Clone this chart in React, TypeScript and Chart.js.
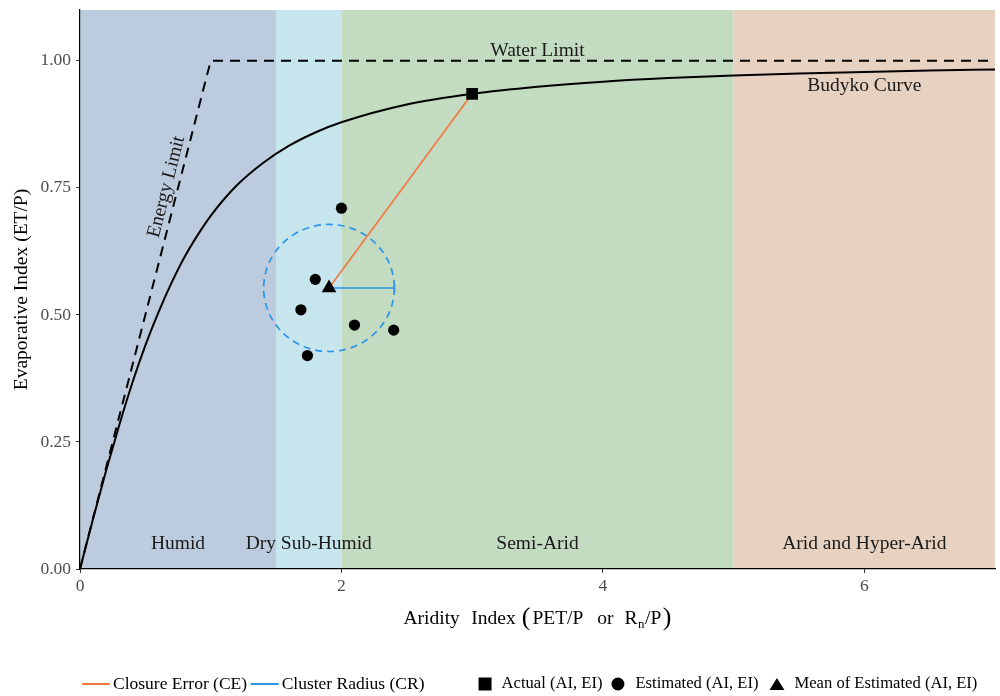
import React, { useEffect, useRef } from "react";
import { Chart, registerables } from "chart.js";

Chart.register(...registerables);

// ---- data ----
const budykoAI = [0, 0.1, 0.2, 0.3, 0.4, 0.5, 0.6, 0.7, 0.8, 0.9, 1.0, 1.2, 1.4, 1.6, 1.8, 2.0, 2.5, 3.0, 3.5, 4.0, 4.5, 5.0, 5.5, 6.0, 6.5, 7.0];
const budykoEI = [0, 0.099, 0.194, 0.283, 0.366, 0.44, 0.505, 0.563, 0.614, 0.657, 0.695, 0.755, 0.799, 0.833, 0.859, 0.879, 0.914, 0.935, 0.949, 0.959, 0.966, 0.971, 0.975, 0.978, 0.981, 0.983];
const limitAI = [0, 1, 7];
const limitEI = [0, 1, 1];
const estimatedAI = [2.0, 1.8, 1.69, 1.74, 2.1, 2.4];
const estimatedEI = [0.71, 0.57, 0.51, 0.42, 0.48, 0.47];
const actualAI = [3.0];
const actualEI = [0.935];
const meanAI = [1.905];
const meanEI = [0.553];
const clusterRadiusAI = [0.5];
const clusterRadiusEI = [0.125];
const regionNames = ["Humid", "Dry Sub-Humid", "Semi-Arid", "Arid and Hyper-Arid"];
const regionStart = [0, 1.5, 2, 5];
const regionEnd = [1.5, 2, 5, 7];
const regionColors = ["#BCCCDE", "#C6E5EC", "#C3DBC0", "#E7D1C1"];
const xTickValues = [0, 2, 4, 6];
const yTickValues = [0, 0.25, 0.5, 0.75, 1.0];

const FONT = '"Liberation Serif", "Times New Roman", serif';
const ORANGE = "#F27B45";
const BLUE = "#2C95E8";

const pts = (xs: number[], ys: number[]) => xs.map((x, i) => ({ x, y: ys[i] }));

const backgroundPlugin = {
  id: "regions",
  beforeDraw(chart: any) {
    const { ctx, chartArea: a, scales } = chart;
    const x = scales.x, y = scales.y;
    ctx.save();
    regionStart.forEach((s, i) => {
      const x0 = x.getPixelForValue(s);
      const x1 = x.getPixelForValue(regionEnd[i]);
      ctx.fillStyle = regionColors[i];
      ctx.fillRect(x0, a.top, x1 - x0, a.bottom - a.top);
    });
    ctx.fillStyle = "#1a1a1a";
    ctx.font = `19.5px ${FONT}`;
    ctx.textAlign = "center";
    ctx.textBaseline = "middle";
    regionNames.forEach((n, i) => {
      const cx = x.getPixelForValue((regionStart[i] + regionEnd[i]) / 2);
      ctx.fillText(n, cx, y.getPixelForValue(0.05));
    });
    ctx.restore();
  },
  beforeDatasetsDraw(chart: any) {
    const { ctx, scales } = chart;
    const x = scales.x, y = scales.y;
    const cx = x.getPixelForValue(meanAI[0]);
    const cy = y.getPixelForValue(meanEI[0]);
    const rx = x.getPixelForValue(meanAI[0] + clusterRadiusAI[0]) - cx;
    const ry = cy - y.getPixelForValue(meanEI[0] + clusterRadiusEI[0]);
    ctx.save();
    ctx.beginPath();
    ctx.ellipse(cx, cy, rx, ry, 0, 0, Math.PI * 2);
    ctx.setLineDash([7, 5]);
    ctx.strokeStyle = BLUE;
    ctx.lineWidth = 1.7;
    ctx.stroke();
    ctx.restore();
  },
  afterDatasetsDraw(chart: any) {
    const { ctx, scales } = chart;
    const x = scales.x, y = scales.y;
    ctx.save();
    ctx.fillStyle = "#1a1a1a";
    ctx.font = `19.5px ${FONT}`;
    ctx.textAlign = "center";
    ctx.textBaseline = "middle";
    ctx.fillText("Water Limit", x.getPixelForValue(3.5), y.getPixelForValue(1.02));
    ctx.fillText("Budyko Curve", x.getPixelForValue(6.0), y.getPixelForValue(0.951));
    // Energy limit rotated along the dashed line
    const p0x = x.getPixelForValue(limitAI[0]), p0y = y.getPixelForValue(limitEI[0]);
    const p1x = x.getPixelForValue(limitAI[1]), p1y = y.getPixelForValue(limitEI[1]);
    const ang = Math.atan2(p1y - p0y, p1x - p0x);
    ctx.translate(x.getPixelForValue(0.662), y.getPixelForValue(0.752));
    ctx.rotate(ang);
    ctx.fillText("Energy Limit", 0, 0);
    ctx.restore();
  },
  afterDraw(chart: any) {
    const { ctx, chartArea: a } = chart;
    ctx.save();
    // y title
    ctx.fillStyle = "#000";
    ctx.font = `19.5px ${FONT}`;
    ctx.textAlign = "center";
    ctx.textBaseline = "middle";
    ctx.translate(22, (a.top + a.bottom) / 2);
    ctx.rotate(-Math.PI / 2);
    ctx.fillText("Evaporative Index (ET/P)", 0, 0);
    ctx.restore();

    // x title with subscript and tall parens
    ctx.save();
    ctx.fillStyle = "#000";
    ctx.textBaseline = "alphabetic";
    ctx.textAlign = "left";
    const segs = [
      { t: "Aridity", s: 19.5, dy: 0, g: 11.5 },
      { t: "Index", s: 19.5, dy: 0, g: 6 },
      { t: "(", s: 26, dy: 1, g: 2 },
      { t: "PET/P", s: 19.5, dy: 0, g: 14 },
      { t: "or", s: 19.5, dy: 0, g: 11 },
      { t: "R", s: 19.5, dy: 0, g: 0.5 },
      { t: "n", s: 13, dy: 4, g: 0.5 },
      { t: "/P", s: 19.5, dy: 0, g: 1.5 },
      { t: ")", s: 26, dy: 1, g: 0 },
    ];
    let total = 0;
    const widths = segs.map((sg) => {
      ctx.font = `${sg.s}px ${FONT}`;
      const w = ctx.measureText(sg.t).width;
      total += w + sg.g;
      return w;
    });
    let cx = (a.left + a.right) / 2 - total / 2;
    const base = 623.5;
    segs.forEach((sg, i) => {
      ctx.font = `${sg.s}px ${FONT}`;
      ctx.fillText(sg.t, cx, base + sg.dy);
      cx += widths[i] + sg.g;
    });
    ctx.restore();

    // legend
    ctx.save();
    const ly = 684;
    ctx.textAlign = "left";
    ctx.textBaseline = "middle";
    ctx.fillStyle = "#000";
    let lx = 82;
    const drawLine = (color: string) => {
      ctx.beginPath();
      ctx.strokeStyle = color;
      ctx.lineWidth = 2;
      ctx.moveTo(lx, ly);
      ctx.lineTo(lx + 28, ly);
      ctx.stroke();
      lx += 28 + 3;
    };
    const drawText = (t: string, gap: number, size: number) => {
      ctx.font = `${size}px ${FONT}`;
      ctx.fillStyle = "#000";
      ctx.fillText(t, lx, ly);
      lx += ctx.measureText(t).width + gap;
    };
    drawLine(ORANGE);
    drawText("Closure Error (CE)", 3.5, 17.5);
    drawLine(BLUE);
    drawText("Cluster Radius (CR)", 54, 17.5);
    ctx.fillStyle = "#000";
    ctx.fillRect(lx, ly - 6.5, 13, 13);
    lx += 13 + 10;
    drawText("Actual (AI, EI)", 9, 16.6);
    ctx.beginPath();
    ctx.fillStyle = "#000";
    ctx.arc(lx + 6.5, ly, 6.5, 0, Math.PI * 2);
    ctx.fill();
    lx += 13 + 11;
    drawText("Estimated (AI, EI)", 11, 16.6);
    ctx.beginPath();
    ctx.fillStyle = "#000";
    ctx.moveTo(lx, ly + 6);
    ctx.lineTo(lx + 15, ly + 6);
    ctx.lineTo(lx + 7.5, ly - 6);
    ctx.closePath();
    ctx.fill();
    lx += 15 + 10;
    drawText("Mean of Estimated (AI, EI)", 0, 16.6);
    ctx.restore();
  },
};

export default function App() {
  const ref = useRef<HTMLCanvasElement>(null);
  useEffect(() => {
    const canvas = ref.current;
    if (!canvas) return;
    const tickFont = { family: FONT, size: 17.5 };
    const chart = new Chart(canvas, {
      type: "scatter",
      data: {
        datasets: [
          {
            label: "Budyko Curve",
            data: pts(budykoAI, budykoEI),
            showLine: true,
            borderColor: "#000",
            borderWidth: 2,
            pointRadius: 0,
            cubicInterpolationMode: "monotone",
            order: 10,
          } as any,
          {
            label: "Limits",
            data: pts(limitAI, limitEI),
            showLine: true,
            borderColor: "#000",
            borderWidth: 2,
            borderDash: [10, 7],
            pointRadius: 0,
            order: 9,
          },
          {
            label: "Closure Error (CE)",
            data: [
              { x: meanAI[0], y: meanEI[0] },
              { x: actualAI[0], y: actualEI[0] },
            ],
            showLine: true,
            borderColor: ORANGE,
            borderWidth: 1.7,
            pointRadius: 0,
            order: 8,
          },
          {
            label: "Cluster Radius (CR)",
            data: [
              { x: meanAI[0], y: meanEI[0] },
              { x: meanAI[0] + clusterRadiusAI[0], y: meanEI[0] },
            ],
            showLine: true,
            borderColor: BLUE,
            borderWidth: 1.7,
            pointStyle: "line",
            rotation: 90,
            pointRadius: [0, 3.2],
            pointBorderColor: BLUE,
            pointBorderWidth: 1.7,
            order: 7,
          } as any,
          {
            label: "Estimated (AI, EI)",
            data: pts(estimatedAI, estimatedEI),
            pointStyle: "circle",
            pointRadius: 5.6,
            backgroundColor: "#000",
            borderWidth: 0,
            order: 3,
          },
          {
            label: "Actual (AI, EI)",
            data: pts(actualAI, actualEI),
            pointStyle: "rect",
            pointRadius: 8.3,
            backgroundColor: "#000",
            borderWidth: 0,
            order: 2,
          },
          {
            label: "Mean of Estimated (AI, EI)",
            data: pts(meanAI, meanEI),
            pointStyle: "triangle",
            pointRadius: 8.5,
            backgroundColor: "#000",
            borderWidth: 0,
            order: 1,
          },
        ],
      },
      options: {
        responsive: false,
        maintainAspectRatio: false,
        animation: false,
        events: [],
        layout: { autoPadding: false, padding: { left: 0, right: 5, top: 10, bottom: 0 } },
        plugins: {
          legend: { display: false },
          tooltip: { enabled: false },
          title: { display: false },
        },
        scales: {
          x: {
            type: "linear",
            min: 0,
            max: 7,
            afterBuildTicks: (s: any) => {
              s.ticks = xTickValues.map((v) => ({ value: v }));
            },
            afterFit: (s: any) => {
              s.height = 127;
              s.paddingLeft = 0;
              s.paddingRight = 0;
            },
            ticks: {
              font: tickFont,
              color: "#4D4D4D",
              padding: 3,
              maxRotation: 0,
              callback: (v: any) => String(v),
            },
            grid: { display: true, drawOnChartArea: false, tickLength: 4, color: "#333", lineWidth: 1 },
            border: { display: true, color: "#000", width: 1.2 },
          },
          y: {
            type: "linear",
            min: 0,
            max: 1.1,
            afterBuildTicks: (s: any) => {
              s.ticks = yTickValues.map((v) => ({ value: v }));
            },
            afterFit: (s: any) => {
              s.width = 80;
              s.paddingTop = 0;
              s.paddingBottom = 0;
            },
            ticks: {
              font: tickFont,
              color: "#4D4D4D",
              padding: 5,
              callback: (v: any) => Number(v).toFixed(2),
            },
            grid: { display: true, drawOnChartArea: false, tickLength: 4, color: "#333", lineWidth: 1 },
            border: { display: true, color: "#000", width: 1.2 },
          },
        },
      },
      plugins: [backgroundPlugin],
    } as any);
    return () => chart.destroy();
  }, []);
  return (
    <div style={{ position: "absolute", left: 0, top: 0, width: 1000, height: 696, background: "#fff" }}>
      <canvas ref={ref} width={1000} height={696} style={{ display: "block", width: 1000, height: 696 }} />
    </div>
  );
}
